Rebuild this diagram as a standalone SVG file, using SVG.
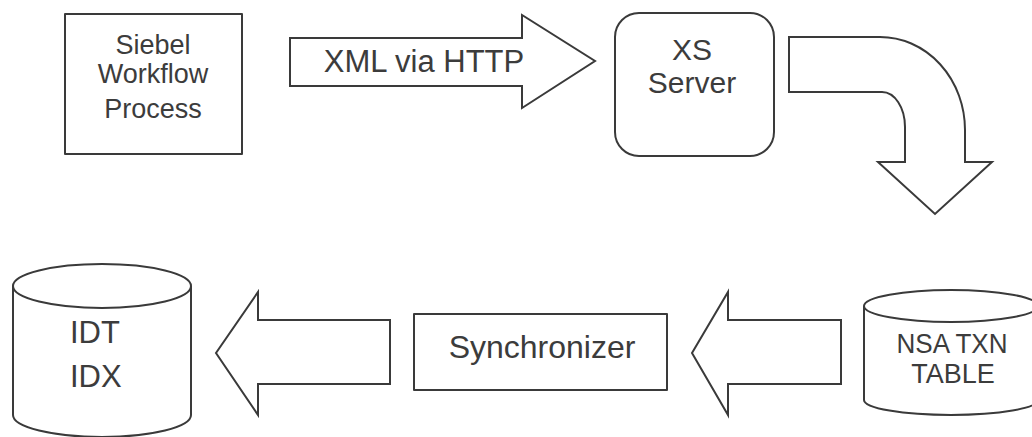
<svg xmlns="http://www.w3.org/2000/svg" width="1032" height="437" viewBox="0 0 1032 437">
<style>
.shape{fill:#fff;stroke:#3a3a3a;stroke-width:2;stroke-linejoin:round}
.conn{fill:#fff;stroke:#3a3a3a;stroke-width:2;stroke-linejoin:miter}
.t{font-family:"Liberation Sans",Arial,sans-serif;fill:#3c3c3c;text-anchor:middle}
</style>
<rect width="1032" height="437" fill="#fff"/>
<g id="connectors">
  <g id="xml-arrow">
    <path class="conn" d="M290,38 L522,38 L522,15 L595,61 L522,108 L522,86 L290,86 Z"/>
    <text class="t" x="424" y="72" font-size="31">XML via HTTP</text>
  </g>
  <path id="curved-arrow" class="conn" d="M789,37 L880,37 A85,93 0 0 1 965,130 L965,162 L992,162 L935,214 L878,162 L905,162 L905,127 A23,35 0 0 0 882,92 L789,92 Z"/>
  <path id="arrow-sync-nsa" class="conn" d="M841,320 L728,320 L728,292 L692,353 L728,415 L728,384 L841,384 Z"/>
  <path id="arrow-idt-sync" class="conn" d="M390,320 L258,320 L258,292 L216,353 L258,415 L258,384 L390,384 Z"/>
</g>
<g id="siebel">
  <rect class="shape" x="65" y="14" width="177" height="140" stroke-linejoin="miter"/>
  <text class="t" x="153" y="54" font-size="27">Siebel</text>
  <text class="t" x="153" y="83" font-size="27">Workflow</text>
  <text class="t" x="153" y="118" font-size="27">Process</text>
</g>
<g id="xs-server">
  <rect class="shape" x="615" y="13" width="159" height="143" rx="24" ry="24"/>
  <text class="t" x="692" y="60" font-size="30">XS</text>
  <text class="t" x="692" y="93" font-size="30">Server</text>
</g>
<g id="nsa-txn">
  <path class="shape" d="M864,306 A87,16 0 0 1 1038,306 L1038,400 A87,15 0 0 1 864,400 Z"/>
  <path class="shape" fill="none" d="M864,306 A87,16 0 0 0 1038,306"/>
  <text class="t" x="952" y="353" font-size="27" textLength="111" lengthAdjust="spacingAndGlyphs">NSA TXN</text>
  <text class="t" x="953" y="383" font-size="27">TABLE</text>
</g>
<g id="synchronizer">
  <rect class="shape" x="414" y="314" width="253" height="76" stroke-linejoin="miter"/>
  <text class="t" x="542" y="358" font-size="32">Synchronizer</text>
</g>
<g id="idt-idx">
  <path class="shape" d="M13,286 A89,22 0 0 1 191,286 L191,415 A89,22 0 0 1 13,415 Z"/>
  <path class="shape" fill="none" d="M13,286 A89,22 0 0 0 191,286"/>
  <text class="t" x="70" y="343" font-size="31" style="text-anchor:start">IDT</text>
  <text class="t" x="70" y="387" font-size="31" style="text-anchor:start">IDX</text>
</g>
</svg>
